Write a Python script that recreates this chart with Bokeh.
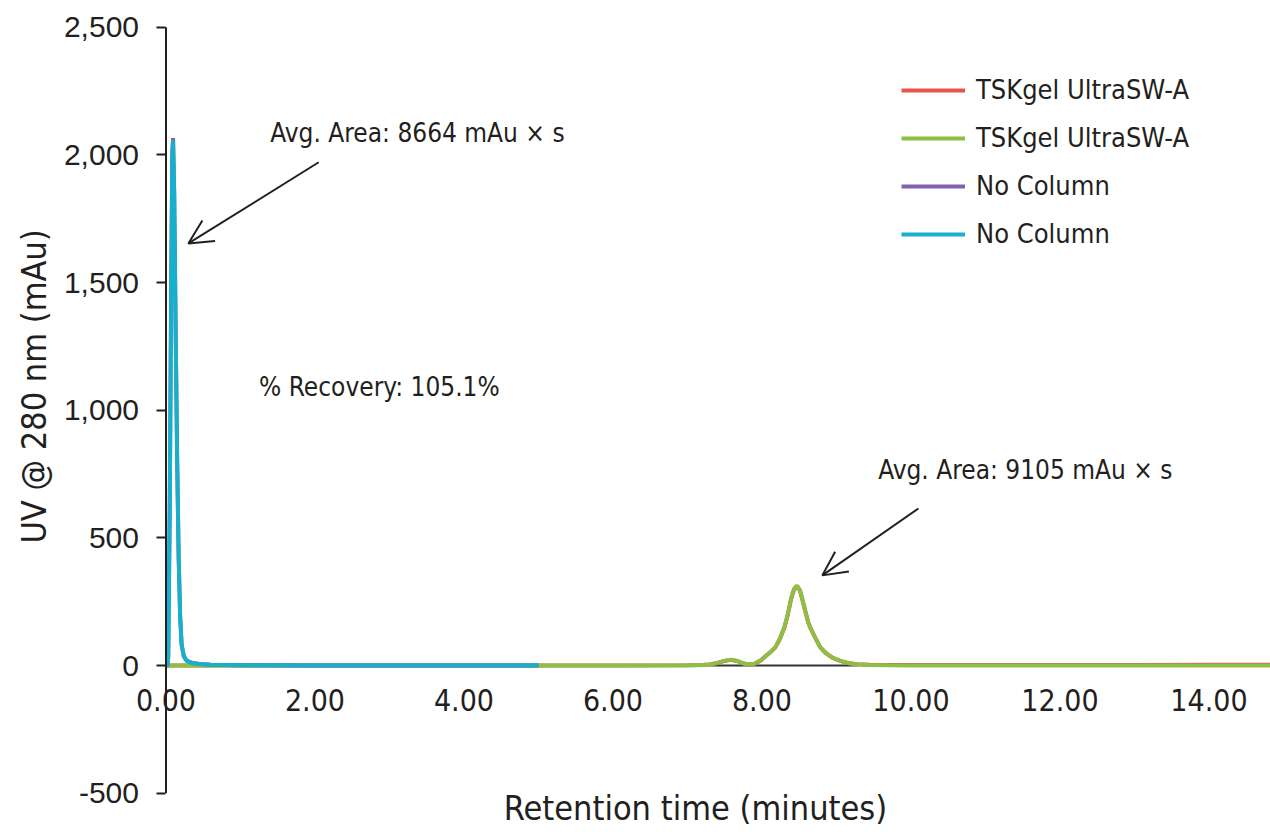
import math
from bokeh.plotting import figure
from bokeh.models import (Range1d, FixedTicker, NumeralTickFormatter, Label, Arrow,
                          OpenHead, Legend, LegendItem, LinearAxis)
from bokeh.embed import file_html
from bokeh.resources import INLINE

# ---------------- data ----------------
nocol_time = [0.00, 0.02, 0.03, 0.05, 0.07, 0.085, 0.095, 0.11, 0.13, 0.15, 0.17, 0.19,
              0.21, 0.24, 0.28, 0.35, 0.45, 0.60, 1.00, 2.00, 3.00, 4.00, 5.00]
nocol_purple = [0, 2, 32, 610, 1510, 2010, 2066, 1855, 1305, 805, 425, 192,
                81, 36, 18, 10, 6, 3, 1, 0, 0, 0, 0]
nocol_cyan = [0, 2, 30, 600, 1500, 2000, 2057, 1850, 1300, 800, 420, 190,
              80, 35, 18, 10, 6, 3, 1, 0, 0, 0, 0]

tsk_time = [0, 2, 4, 6, 7.0, 7.2, 7.3, 7.4, 7.5, 7.58, 7.66, 7.74, 7.82, 7.9, 7.98,
            8.06, 8.12, 8.18, 8.24, 8.30, 8.35, 8.39, 8.43, 8.47, 8.51, 8.54, 8.58,
            8.62, 8.65, 8.70, 8.78, 8.86, 8.95, 9.05, 9.15, 9.28, 9.45, 9.7,
            10, 11, 12, 13, 14, 15]
tsk_red = [0, 0, 0, 0, 1, 2, 4, 10, 18, 22, 18, 9, 4, 7, 19,
           39, 54, 71, 104, 148, 203, 259, 297, 310, 293, 260, 214,
           169, 147, 117, 72, 48, 30, 18, 10, 5, 3, 2,
           2, 2, 2, 2, 3, 3]
tsk_green = [0, 0, 0, 0, 1, 2, 4, 10, 19, 23, 19, 9, 4, 7, 20,
             40, 55, 72, 105, 150, 205, 262, 300, 313, 295, 262, 215,
             170, 148, 118, 72, 48, 30, 18, 10, 4, 2, 1,
             0, 0, 0, 0, 0, 0]

baseline_time = [7.31, 9.28]
baseline_val = [0, 0]

x_ticks = [0, 2, 4, 6, 8, 10, 12, 14]
y_ticks = [-500, 0, 500, 1000, 1500, 2000, 2500]
series_labels = ["TSKgel UltraSW-A", "TSKgel UltraSW-A", "No Column", "No Column"]

# ---------------- styling ----------------
NARROW = "DejaVu Sans Condensed"
REG = "Liberation Sans"
DARK = "#231f20"
RED = "#e8534b"
GREEN = "#8bbf45"
PURPLE = "#8261ad"
CYAN = "#17b0cc"

p = figure(width=1270, height=835, output_backend="svg", toolbar_location=None,
           x_range=Range1d(-2.2215, 14.826), y_range=Range1d(-665.8, 2604.5),
           min_border_left=0, min_border_right=0, min_border_top=0,
           min_border_bottom=0, x_axis_type=None, y_axis_type=None)
p.outline_line_color = None
p.background_fill_color = "white"
p.border_fill_color = "white"
p.xgrid.visible = False
p.ygrid.visible = False

xaxis = LinearAxis(fixed_location=0, ticker=FixedTicker(ticks=x_ticks),
                   formatter=NumeralTickFormatter(format="0.00"),
                   axis_line_color=None, major_tick_line_color=None,
                   minor_tick_line_color=None,
                   major_label_text_font=NARROW, major_label_text_font_size="30px",
                   major_label_text_color=DARK, major_label_standoff=17)
p.add_layout(xaxis, "below")

yaxis = LinearAxis(fixed_location=0, ticker=FixedTicker(ticks=y_ticks),
                   formatter=NumeralTickFormatter(format="0,0"),
                   axis_line_color=None,
                   major_tick_out=9, major_tick_in=0, major_tick_line_width=2,
                   major_tick_line_color=DARK, minor_tick_line_color=None,
                   major_label_text_font=REG, major_label_text_font_size="30px",
                   major_label_text_color=DARK, major_label_standoff=18)
p.add_layout(yaxis, "left")

p.line(baseline_time, baseline_val, line_color="#333333", line_width=2)
r_red = p.line(tsk_time, tsk_red, line_color=RED, line_width=4)
r_green = p.line(tsk_time, tsk_green, line_color=GREEN, line_width=4)
r_purple = p.line(nocol_time, nocol_purple, line_color=PURPLE, line_width=4)
r_cyan = p.line(nocol_time, nocol_cyan, line_color=CYAN, line_width=4)

# y axis line spanning the tick range only
p.line([0, 0], [min(y_ticks), max(y_ticks)], line_color=DARK, line_width=2)

legend = Legend(items=[LegendItem(label=series_labels[i], renderers=[r])
                       for i, r in enumerate([r_red, r_green, r_purple, r_cyan])],
                location=(901, 586), glyph_width=64, glyph_height=30,
                label_height=30, spacing=17, padding=0, margin=0, label_standoff=11,
                border_line_color=None, background_fill_alpha=0,
                label_text_font=NARROW, label_text_font_size="27px",
                label_text_color=DARK)
p.add_layout(legend)

ann = dict(text_font=NARROW, text_font_size="26px", text_color=DARK, text_baseline="middle")
p.add_layout(Label(x=1.40, y=2084, text="Avg. Area: 8664 mAu × s", **ann))
p.add_layout(Label(x=1.25, y=1089, text="% Recovery: 105.1%", **ann))
p.add_layout(Label(x=9.56, y=764, text="Avg. Area: 9105 mAu × s", **ann))

p.add_layout(Arrow(end=OpenHead(size=24, line_width=2, line_color=DARK),
                   x_start=2.05, y_start=1971, x_end=0.30, y_end=1653,
                   line_width=2, line_color=DARK))
p.add_layout(Arrow(end=OpenHead(size=24, line_width=2, line_color=DARK),
                   x_start=10.10, y_start=615, x_end=8.81, y_end=353,
                   line_width=2, line_color=DARK))

p.add_layout(Label(x=-1.778, y=1093, angle=math.pi / 2, text="UV @ 280 nm (mAu)",
                   text_font=NARROW, text_font_size="34px", text_color=DARK,
                   text_align="center", text_baseline="middle"))
p.add_layout(Label(x=7.107, y=-560, text="Retention time (minutes)",
                   text_font=NARROW, text_font_size="34px", text_color=DARK,
                   text_align="center", text_baseline="middle"))

open("out.html", "w").write(file_html(p, INLINE))
